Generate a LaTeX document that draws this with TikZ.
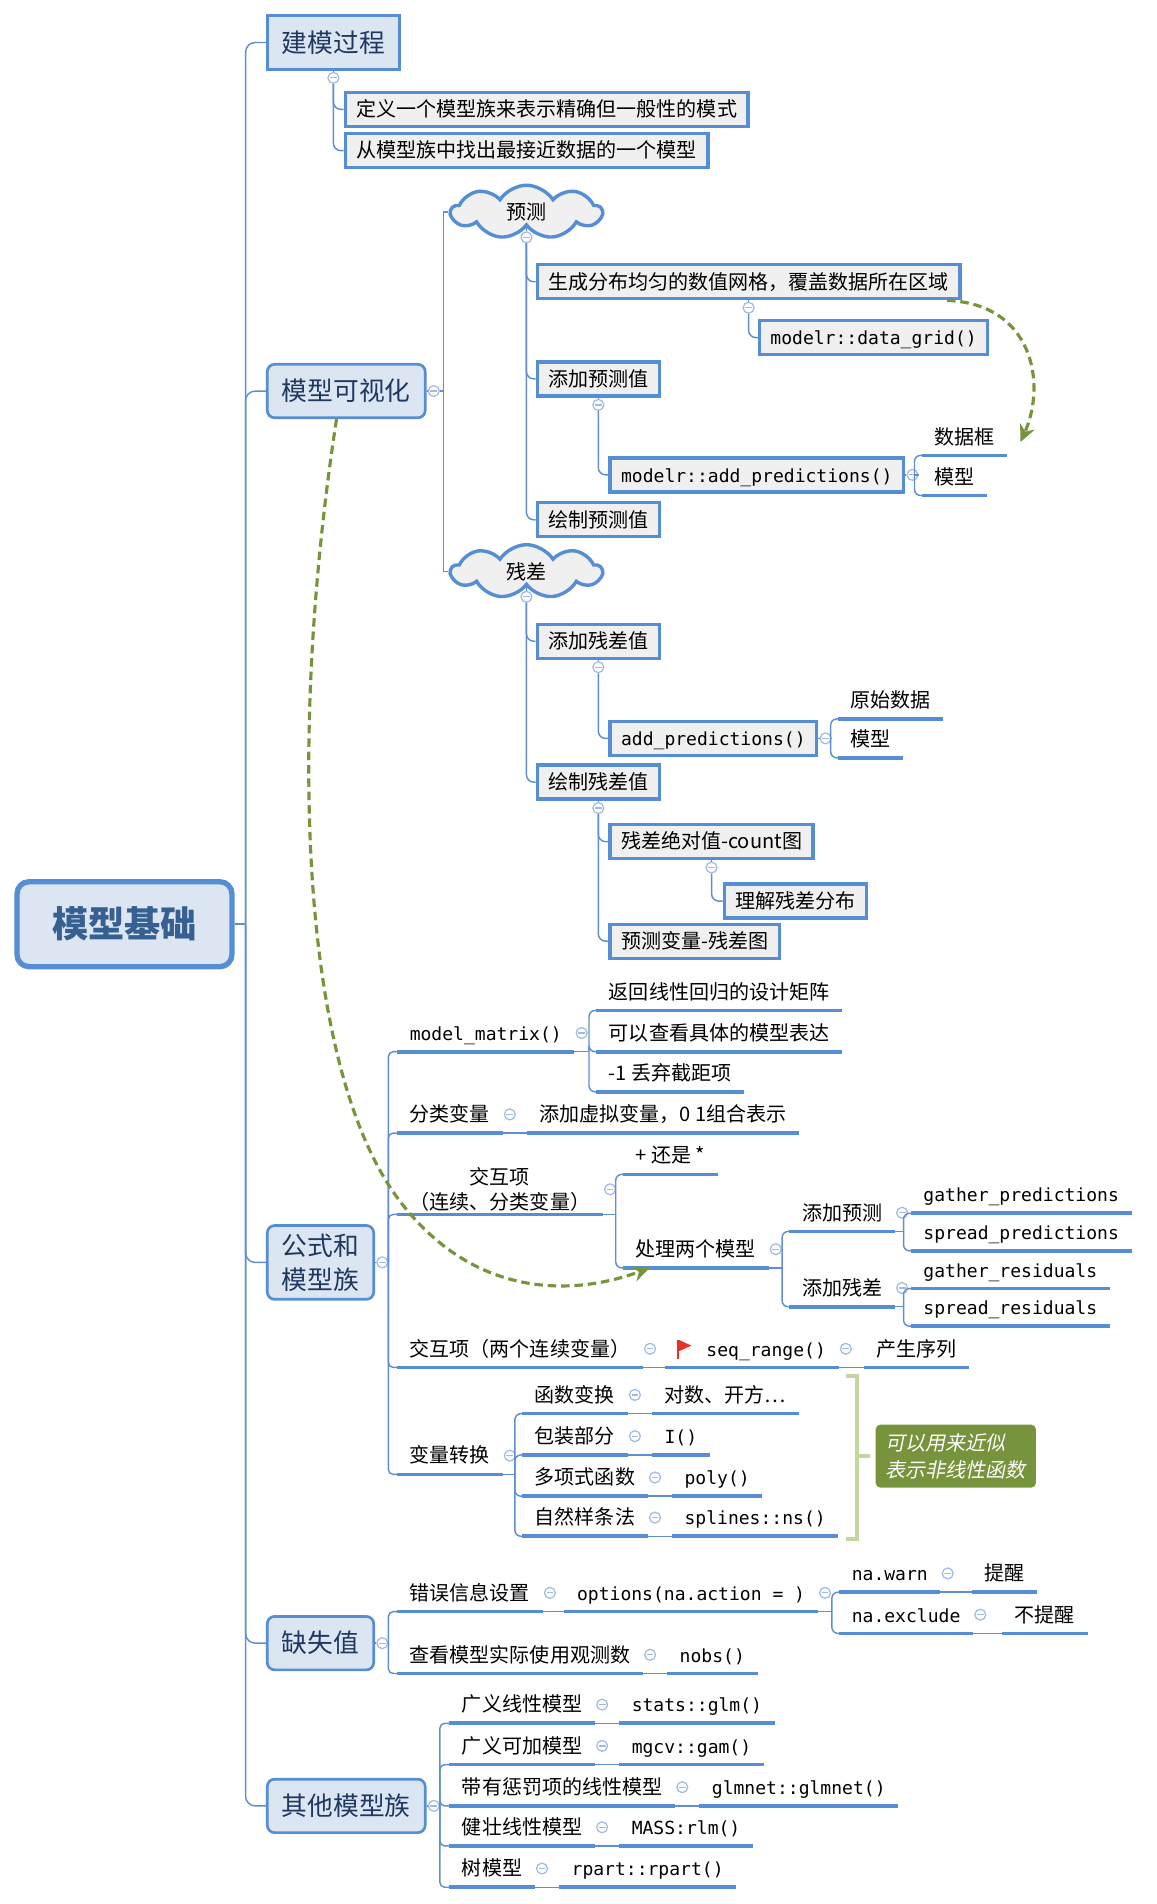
\documentclass[tikz,border=0pt]{standalone}
\usepackage{fontspec}
\setmainfont{Noto Sans CJK SC}
\setmonofont{DejaVu Sans Mono}[Scale=0.9]
\newfontfamily\cjkslant{Noto Sans CJK SC}[FakeSlant=0.2]
\usepackage{tikz}
\usetikzlibrary{positioning, calc, shapes.symbols, arrows.meta}
\definecolor{boxblue}{RGB}{85, 142, 213}
\definecolor{linkblue}{RGB}{95, 143, 210}
\definecolor{boxfill}{RGB}{220, 230, 242}
\definecolor{greyfill}{RGB}{240, 240, 240}
\definecolor{rootblue}{RGB}{55, 96, 146}
\definecolor{topicblue}{RGB}{31, 56, 96}
\definecolor{foldblue}{RGB}{160, 185, 230}
\definecolor{jumpgreen}{RGB}{119, 147, 60}
\definecolor{sumgreen}{RGB}{196, 214, 160}
\definecolor{flagred}{RGB}{230, 50, 40}
\newcommand{\fsnormal}{\fontsize{8.25pt}{10.5pt}\selectfont}
\newcommand{\fstopic}{\fontsize{10.6pt}{14pt}\selectfont}
\newcommand{\fsroot}{\fontsize{14.9pt}{18pt}\selectfont\bfseries}
\newcommand{\fsnotes}{\fontsize{8.25pt}{11pt}\selectfont\cjkslant}
\newcommand{\rcode}[1]{{\ttfamily #1}}

\begin{document}
\begin{tikzpicture}[x = 0.5pt, y = -0.5pt,
    conn/.style = {draw = linkblue, line width = 0.6pt},
    uline/.style = {draw = boxblue, line width = 1.5pt},
    root/.style = {rectangle, rounded corners = 5pt, draw = boxblue, line width = 2.2pt, fill = boxfill, text = rootblue, font = \fsroot, minimum width = 88.5pt, minimum height = 35pt},
    topic/.style = {anchor = west, rectangle, rounded corners = 3pt, draw = boxblue, line width = 1.1pt, fill = boxfill, text = topicblue, font = \fstopic, align = center, inner xsep = 6pt, minimum height = 22pt},
    sub/.style = {anchor = west, rectangle, draw = boxblue, line width = 1.4pt, fill = greyfill, font = \fsnormal, inner xsep = 4.5pt, inner ysep = 3pt, text height = 7pt, text depth = 1pt},
    bubble/.style = {cloud, cloud puffs = 9, cloud puff arc = 115, aspect = 2.8, draw = boxblue, line width = 1.4pt, fill = greyfill, font = \fsnormal, minimum width = 62pt, minimum height = 22pt, inner sep = 0pt},
    leaf/.style = {anchor = south west, font = \fsnormal, inner xsep = 5pt, inner ysep = 3.5pt, text height = 7pt, text depth = 1pt, append after command = {(\tikzlastnode.south west) edge[uline] (\tikzlastnode.south east)}},
    fold/.style = {circle, draw = foldblue, fill = white, line width = 0.5pt, minimum size = 4.5pt, inner sep = 0pt, path picture = {\draw[foldblue, line width = 0.5pt] ([xshift = -1.4pt]path picture bounding box.center) -- ([xshift = 1.4pt]path picture bounding box.center);}},
    jump/.style = {draw = jumpgreen, line width = 1.3pt, dash pattern = on 3.5pt off 2pt, -{Stealth[length = 7pt, width = 6.5pt]}},
    sumline/.style = {draw = sumgreen, line width = 1.6pt},
    note/.style = {rectangle, rounded corners = 2pt, fill = jumpgreen, text = white, font = \fsnotes, align = left, minimum width = 66pt, minimum height = 26pt, inner xsep = 4pt}]
  \useasboundingbox (0, 0) rectangle (952.6, 1567.8);

  % nodes
  \node[root] (root) at (102.5, 761) {模型基础};
  \node[topic, sharp corners] (build) at (219, 35) {建模过程};
  \node[topic] (vis) at (219, 322) {模型可视化};
  \node[topic] (form) at (219, 1039.5) {公式和\\模型族};
  \node[topic] (miss) at (219, 1353) {缺失值};
  \node[topic] (other) at (219, 1487) {其他模型族};

  % modelling process
  \node[sub] (def) at (283, 90) {定义一个模型族来表示精确但一般性的模式};
  \node[sub] (find) at (283, 124) {从模型族中找出最接近数据的一个模型};

  % visualising - predictions
  \node[bubble] (pred) at (433.5, 174.5) {预测};
  \node[sub] (grid) at (441, 232) {生成分布均匀的数值网格，覆盖数据所在区域};
  \node[sub] (dg) at (624, 278) {\rcode{modelr::data\_grid()}};
  \node[sub] (addpv) at (441, 312) {添加预测值};
  \node[sub] (adp) at (501, 391) {\rcode{modelr::add\_predictions()}};
  \node[leaf] (dfr) at (759, 375) {数据框};
  \node[leaf] (dmod) at (759, 408) {模型};
  \node[sub] (plotpv) at (441, 428) {绘制预测值};

  % visualising - residuals
  \node[bubble] (res) at (433.5, 470.5) {残差};
  \node[sub] (addrv) at (441, 528) {添加残差值};
  \node[sub] (ap) at (501, 608) {\rcode{add\_predictions()}};
  \node[leaf] (orig) at (690, 592) {原始数据};
  \node[leaf] (rmod) at (690, 624) {模型};
  \node[sub] (plotrv) at (441, 644) {绘制残差值};
  \node[sub] (cnt) at (501, 693) {残差绝对值-count图};
  \node[sub] (und) at (595, 742) {理解残差分布};
  \node[sub] (pvr) at (501, 775) {预测变量-残差图};

  % formulas and model families
  \node[leaf] (mm) at (327, 866) {\rcode{model\_matrix()}};
  \node[leaf] (mm1) at (491, 832) {返回线性回归的设计矩阵};
  \node[leaf] (mm2) at (491, 866) {可以查看具体的模型表达};
  \node[leaf] (mm3) at (491, 899) {-1 丢弃截距项};
  \node[leaf] (cat) at (327, 933) {分类变量};
  \node[leaf, right = 10pt of cat] (cat2) {添加虚拟变量，0 1组合表示};
  \node[leaf, align = center, text height =, text depth =, inner ysep = 1pt] (int) at (327, 1000) {交互项\\（连续、分类变量）};
  \node[leaf] (pm) at (513, 967) {+ 还是 *};
  \node[leaf] (two) at (513, 1044) {处理两个模型};
  \node[leaf] (addpd) at (650, 1014) {添加预测};
  \node[leaf] (addrs) at (650, 1076) {添加残差};
  \node[leaf] (gp) at (750, 999) {\rcode{gather\_predictions}};
  \node[leaf] (sp) at (750, 1030) {\rcode{spread\_predictions}};
  \node[leaf] (gr) at (750, 1061) {\rcode{gather\_residuals}};
  \node[leaf] (sr) at (750, 1092) {\rcode{spread\_residuals}};
  \node[leaf] (int2) at (327, 1126) {交互项（两个连续变量）};
  \node[leaf, right = 9pt of int2] (seq) {\hspace{12pt}\rcode{seq\_range()}};
  \node[leaf, right = 10.5pt of seq] (gen) {产生序列};
  \node[leaf] (trans) at (327, 1214) {变量转换};
  \node[leaf] (fun) at (430, 1164) {函数变换};
  \node[leaf, right = 10pt of fun] (fun2) {对数、开方…};
  \node[leaf] (wrap) at (430, 1198) {包装部分};
  \node[leaf, right = 10pt of wrap] (wrap2) {\rcode{I()}\hspace{7pt}};
  \node[leaf] (poly) at (430, 1232) {多项式函数};
  \node[leaf, right = 10pt of poly] (poly2) {\rcode{poly()}\hspace{8pt}};
  \node[leaf] (spl) at (430, 1265) {自然样条法};
  \node[leaf, right = 10pt of spl] (spl2) {\rcode{splines::ns()}};
  \node[note] (note) at (787, 1199) {可以用来近似\\表示非线性函数};

  % missing values
  \node[leaf] (err) at (327, 1327) {错误信息设置};
  \node[leaf, right = 9pt of err] (opt) {\rcode{options(na.action = )}};
  \node[leaf] (warn) at (691, 1311) {\rcode{na.warn}};
  \node[leaf, right = 13pt of warn] (warn2) {提醒};
  \node[leaf] (excl) at (691, 1345) {\rcode{na.exclude}};
  \node[leaf, right = 12pt of excl] (excl2) {不提醒};
  \node[leaf] (nobs) at (327, 1378) {查看模型实际使用观测数};
  \node[leaf, right = 10pt of nobs] (nobs2) {\rcode{nobs()}};

  % other model families
  \node[leaf] (glm) at (370, 1419) {广义线性模型};
  \node[leaf, right = 10pt of glm] (glm2) {\rcode{stats::glm()}};
  \node[leaf] (gam) at (370, 1453) {广义可加模型};
  \node[leaf, right = 10pt of gam] (gam2) {\rcode{mgcv::gam()}};
  \node[leaf] (pen) at (370, 1487) {带有惩罚项的线性模型};
  \node[leaf, right = 10pt of pen] (pen2) {\rcode{glmnet::glmnet()}};
  \node[leaf] (rlm) at (370, 1520) {健壮线性模型};
  \node[leaf, right = 10pt of rlm] (rlm2) {\rcode{MASS:rlm()}};
  \node[leaf] (tree) at (370, 1554) {树模型};
  \node[leaf, right = 10pt of tree] (tree2) {\rcode{rpart::rpart()}};

  % fold markers
  \foreach \n in {vis,form,miss,other,adp,ap,mm,cat,int,two,addpd,addrs,int2,seq,trans,fun,wrap,poly,spl,err,opt,warn,excl,nobs,glm,gam,pen,rlm,tree}
    \node[fold] (f-\n) at ([xshift = 3pt]\n.east) {};
  \foreach \n in {build,grid,addpv,addrv,plotrv,cnt}
    \node[fold] (f-\n) at ([yshift = -3pt]\n.south) {};
  \foreach \n in {pred,res}
    \node[fold] (f-\n) at ([yshift = -4pt]\n.south) {};

  % edges
  \draw[conn] (root.east) -- ++(4.5pt, 0) coordinate (trunk);
  \foreach \n in {build,vis,form,miss,other}
    \draw[conn, rounded corners = 4pt] (trunk) |- (\n.west);
  \foreach \n in {vis,form,miss,other,adp,ap}
    \draw[conn] (\n.east) -- (f-\n.west);
  \foreach \n in {build,grid,addpv,addrv,plotrv,cnt,pred,res}
    \draw[conn] (\n.south) -- (f-\n.north);

  \foreach \c in {def,find}
    \draw[conn, rounded corners = 3pt] (f-build.south) |- (\c.west);
  \foreach \c in {pred,res}
    \draw[conn] (f-vis.east) -- ++(1.5pt, 0) |- (\c.west);
  \foreach \c in {grid,addpv,plotpv}
    \draw[conn, rounded corners = 3pt] (f-pred.south) |- (\c.west);
  \draw[conn, rounded corners = 3pt] (f-grid.south) |- (dg.west);
  \draw[conn, rounded corners = 3pt] (f-addpv.south) |- (adp.west);
  \foreach \c in {addrv,plotrv}
    \draw[conn, rounded corners = 3pt] (f-res.south) |- (\c.west);
  \draw[conn, rounded corners = 3pt] (f-addrv.south) |- (ap.west);
  \foreach \c in {cnt,pvr}
    \draw[conn, rounded corners = 3pt] (f-plotrv.south) |- (\c.west);
  \draw[conn, rounded corners = 3pt] (f-cnt.south) |- (und.west);

  \draw[conn] (f-adp.east) -- ($(dfr.south west |- f-adp.east) + (-6, 0)$) coordinate (adp-b);
  \foreach \c in {dfr,dmod}
    \draw[conn, rounded corners = 2.5pt] (adp-b) |- (\c.south west);
  \draw[conn] (f-ap.east) -- ($(orig.south west |- f-ap.east) + (-6, 0)$) coordinate (ap-b);
  \foreach \c in {orig,rmod}
    \draw[conn, rounded corners = 2.5pt] (ap-b) |- (\c.south west);

  \foreach \c in {mm,cat,int,int2,trans}
    \draw[conn, rounded corners = 2pt] (f-form.east) |- (\c.south west);
  \foreach \c in {err,nobs}
    \draw[conn, rounded corners = 2pt] (f-miss.east) |- (\c.south west);
  \foreach \c in {glm,gam,pen,rlm,tree}
    \draw[conn, rounded corners = 2pt] (f-other.east) |- (\c.south west);

  \foreach \p/\f/\cs in {mm/mm1/{mm1,mm2,mm3}, int/pm/{pm,two}, two/addpd/{addpd,addrs}, addpd/gp/{gp,sp}, addrs/gr/{gr,sr}, trans/fun/{fun,wrap,poly,spl}, opt/warn/{warn,excl}} {
    \draw[conn] (\p.south east) -- ($(\f.south west |- \p.south east) + (-6, 0)$) coordinate (\p-b);
    \foreach \c in \cs
      \draw[conn, rounded corners = 2.5pt] (\p-b) |- (\c.south west);
  }

  \foreach \a/\b in {cat/cat2, int2/seq, seq/gen, fun/fun2, wrap/wrap2, poly/poly2, spl/spl2, err/opt, warn/warn2, excl/excl2, nobs/nobs2, glm/glm2, gam/gam2, pen/pen2, rlm/rlm2, tree/tree2}
    \draw[conn] (\a.south east) -- (\b.south west);

  % flag on seq_range
  \draw[flagred, line width = 0.8pt] ($(seq.south west) + (11, -7)$) -- ++(0, -16);
  \fill[flagred] ($(seq.south west) + (11, -23)$) -- ++(11, 5) -- ++(-11, 5) -- cycle;

  % summary - green
  \coordinate (sum-top) at (697, 1133);
  \coordinate (sum-bot) at (697, 1267);
  \draw[sumline] (sum-top) -- ++(9, 0) |- (sum-bot);
  \draw[sumline, shorten > = 2pt] ($(note.west -| sum-top) + (9, 0)$) -- (note.west);

  % relationships - dashed green
  \draw[jump] ([xshift = -6pt]grid.south east) .. controls (850, 250) and (862, 315) .. ([xshift = 5.5pt, yshift = 5.5pt]dfr.south east);
  \draw[jump] ([xshift = -4pt]vis.south) .. controls (238, 600) and (245, 880) .. (330, 990) .. controls (390, 1068) and (470, 1068) .. ([xshift = 11pt]two.south west);

\end{tikzpicture}
\end{document}
